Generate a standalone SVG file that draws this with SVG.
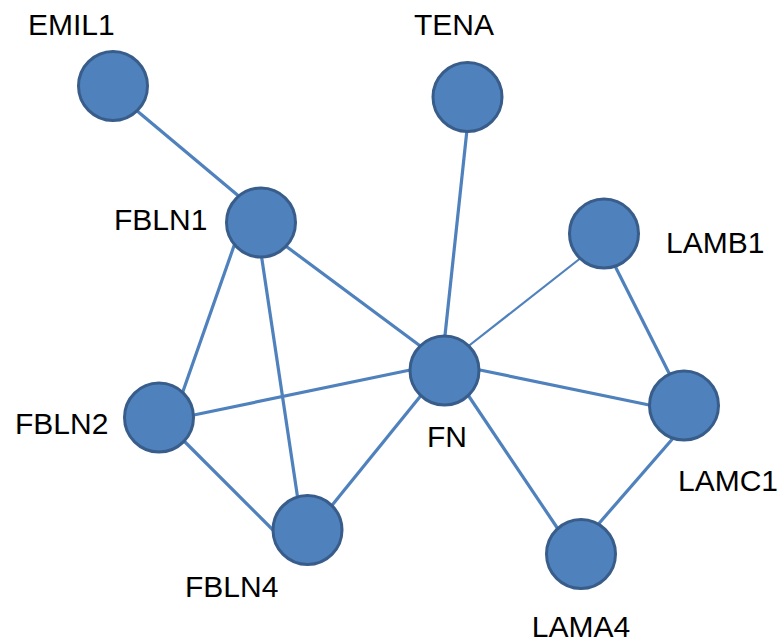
<svg xmlns="http://www.w3.org/2000/svg" width="784" height="643" viewBox="0 0 784 643">
<style>
.edge{stroke:#4F81BD;stroke-width:3.2;fill:none}
.thin{stroke-width:2.2}
.node circle{fill:#4F81BD;stroke:#385D8A;stroke-width:3}
.lbl{font-family:"Liberation Sans",Arial,sans-serif;font-size:30px;fill:#000}
</style>
<rect width="784" height="643" fill="#fff"/>
<g id="connectors">
<line class="edge" x1="136" y1="110" x2="241" y2="198"/>
<line class="edge" x1="467.5" y1="125" x2="444.5" y2="340"/>
<line class="edge" x1="283" y1="244" x2="423" y2="348"/>
<line class="edge" x1="235" y1="243" x2="181" y2="397"/>
<line class="edge" x1="261" y1="253" x2="298" y2="500"/>
<line class="edge" x1="189" y1="416" x2="415" y2="369"/>
<line class="edge" x1="181" y1="438" x2="277" y2="534"/>
<line class="edge" x1="329" y1="509" x2="423" y2="393"/>
<line class="edge thin" x1="466" y1="348" x2="582" y2="257"/>
<line class="edge" x1="475" y1="369" x2="654" y2="406"/>
<line class="edge" x1="466" y1="392" x2="560" y2="532"/>
<line class="edge" x1="615" y1="266" x2="672" y2="379"/>
<line class="edge" x1="675" y1="436" x2="595" y2="528"/>
</g>
<g id="EMIL1" class="node"><circle cx="113" cy="86" r="34.5"/><text class="lbl" x="28" y="35">EMIL1</text></g>
<g id="TENA" class="node"><circle cx="467.5" cy="97" r="34.5"/><text class="lbl" x="414" y="35">TENA</text></g>
<g id="FBLN1" class="node"><circle cx="261" cy="222.5" r="34.5"/><text class="lbl" x="114" y="230">FBLN1</text></g>
<g id="LAMB1" class="node"><circle cx="604" cy="233.5" r="34.5"/><text class="lbl" x="666" y="253">LAMB1</text></g>
<g id="FN" class="node"><circle cx="444.5" cy="370.5" r="34.5"/><text class="lbl" x="427" y="447">FN</text></g>
<g id="FBLN2" class="node"><circle cx="159" cy="417.5" r="34.5"/><text class="lbl" x="15" y="434">FBLN2</text></g>
<g id="LAMC1" class="node"><circle cx="684" cy="405.5" r="34.5"/><text class="lbl" x="678" y="491">LAMC1</text></g>
<g id="FBLN4" class="node"><circle cx="307.5" cy="530" r="34.5"/><text class="lbl" x="185" y="597">FBLN4</text></g>
<g id="LAMA4" class="node"><circle cx="581" cy="554" r="34.5"/><text class="lbl" x="581" y="637" text-anchor="middle">LAMA4</text></g>
</svg>
